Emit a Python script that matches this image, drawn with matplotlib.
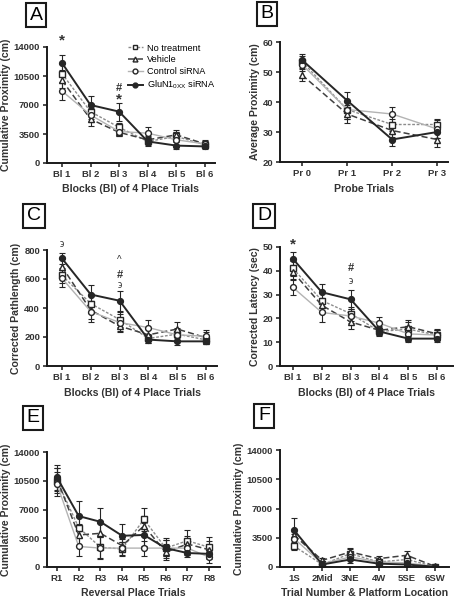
import numpy as np
import matplotlib
matplotlib.use('Agg')
import matplotlib.pyplot as plt
from matplotlib.lines import Line2D

plt.rcParams['font.family'] = ['Liberation Sans', 'DejaVu Sans']

groups = ['No treatment', 'Vehicle', 'Control siRNA', r'GluN1$_{\mathregular{0XX}}$ siRNA']

# Panel A - cumulative proximity, place trials
a_ticks = ['Bl 1', 'Bl 2', 'Bl 3', 'Bl 4', 'Bl 5', 'Bl 6']
a_nt = [10800, 6200, 4300, 2600, 3200, 2200]
a_veh = [10000, 5300, 3700, 2800, 3400, 2300]
a_ctrl = [8700, 5800, 3800, 3600, 2800, 2300]
a_glu = [12100, 7000, 6200, 2600, 2100, 2000]
a_nt_e = [1100, 900, 500, 500, 600, 400]
a_veh_e = [900, 800, 500, 400, 600, 400]
a_ctrl_e = [1100, 800, 600, 700, 900, 500]
a_glu_e = [900, 1100, 1100, 400, 400, 300]

# Panel B - average proximity, probe trials
b_ticks = ['Pr 0', 'Pr 1', 'Pr 2', 'Pr 3']
b_nt = [53.5, 37.5, 32.5, 32.5]
b_veh = [49, 36, 30.5, 27.5]
b_ctrl = [52.5, 37.5, 36, 31]
b_glu = [54, 40.5, 27.5, 30]
b_nt_e = [2, 3, 2, 2]
b_veh_e = [2, 3, 2, 2.5]
b_ctrl_e = [2, 3, 2.5, 3]
b_glu_e = [2, 3, 2, 2]

# Panel C - corrected pathlength
c_nt = [625, 430, 320, 190, 220, 180]
c_veh = [685, 385, 275, 215, 255, 195]
c_ctrl = [605, 375, 300, 265, 215, 205]
c_glu = [742, 493, 450, 182, 170, 170]
c_nt_e = [50, 60, 50, 30, 40, 30]
c_veh_e = [50, 60, 40, 40, 50, 40]
c_ctrl_e = [60, 70, 60, 50, 40, 40]
c_glu_e = [40, 65, 70, 20, 25, 20]

# Panel D - corrected latency
d_nt = [41, 27.5, 22, 14.5, 15.5, 13]
d_veh = [39.5, 25.5, 18.5, 15, 16.5, 13.5]
d_ctrl = [33, 22.5, 21, 18, 13.5, 13]
d_glu = [45, 31, 28, 14.5, 11.5, 11.5]
d_nt_e = [3, 3, 3, 2, 3, 2]
d_veh_e = [3, 3, 3, 2, 3, 2]
d_ctrl_e = [3, 4, 3, 2.5, 3, 2]
d_glu_e = [3, 3.5, 4, 1.5, 1.5, 1.5]

# Panel E - reversal place trials
e_ticks = ['R1', 'R2', 'R3', 'R4', 'R5', 'R6', 'R7', 'R8']
e_nt = [10500, 4800, 2400, 2200, 5800, 2300, 3200, 2400]
e_veh = [10700, 3900, 4100, 2600, 5000, 1800, 2800, 2100]
e_ctrl = [10100, 2500, 2300, 2300, 2300, 2300, 2300, 1200]
e_glu = [10900, 6200, 5500, 3800, 3900, 2300, 1700, 1600]
e_nt_e = [1500, 1300, 1300, 800, 1400, 1200, 1300, 1200]
e_veh_e = [1400, 1300, 1300, 800, 1200, 1000, 1000, 1100]
e_ctrl_e = [1500, 1200, 1300, 800, 900, 1000, 800, 700]
e_glu_e = [1500, 1800, 1700, 1400, 1400, 1000, 500, 500]

# Panel F - trial number & platform location
f_ticks = ['1S', '2Mid', '3NE', '4W', '5SE', '6SW']
f_nt = [2500, 300, 1600, 600, 900, 50]
f_veh = [3800, 800, 1800, 1000, 1400, 80]
f_ctrl = [3400, 400, 1200, 600, 500, 50]
f_glu = [4400, 300, 900, 400, 300, 30]
f_nt_e = [500, 200, 500, 300, 400, 30]
f_veh_e = [600, 300, 500, 300, 500, 30]
f_ctrl_e = [600, 200, 400, 300, 300, 30]
f_glu_e = [1500, 200, 400, 200, 200, 30]

styles = [
    dict(color='0.55', ls=(0, (2, 1.2)), marker='s', mfc='white', lw=1.0),
    dict(color='0.25', ls=(0, (4, 2)), marker='^', mfc='white', lw=1.1),
    dict(color='0.7', ls='-', marker='o', mfc='white', lw=1.0),
    dict(color='0.15', ls='-', marker='o', mfc='0.15', lw=1.4),
]

W, H = 462, 599
fig = plt.figure(figsize=(W / 100, H / 100), dpi=100)


def px_axes(x0, x1, ytop, ybot):
    return fig.add_axes([x0 / W, 1 - ybot / H, (x1 - x0) / W, (ybot - ytop) / H])


def draw(ax, ticks, series, errs, ylim, yticks, xlim, ylabel, xlabel):
    x = np.arange(len(ticks))
    for s, e, st in zip(series, errs, styles):
        ax.errorbar(x, s, yerr=e, color=st['color'], ls=st['ls'], lw=st['lw'],
                    marker=st['marker'], mfc=st['mfc'], mec='0.15', ms=4.2,
                    ecolor='0.15', elinewidth=0.8, capsize=2, capthick=0.8)
    ax.set_xlim(*xlim)
    ax.set_ylim(*ylim)
    ax.set_yticks(yticks)
    ax.set_xticks(x)
    ax.set_xticklabels(ticks)
    for sp in ['top', 'right']:
        ax.spines[sp].set_visible(False)
    for sp in ['left', 'bottom']:
        ax.spines[sp].set_linewidth(1.4)
        ax.spines[sp].set_color('0.1')
    ax.tick_params(length=3, width=1.1, labelsize=6.8, pad=2, colors='0.1')
    for lab in ax.get_xticklabels() + ax.get_yticklabels():
        lab.set_fontweight('bold')
        lab.set_color('0.2')
    ax.set_ylabel(ylabel, fontsize=7.6, fontweight='bold', color='0.2', labelpad=2)
    ax.set_xlabel(xlabel, fontsize=7.6, fontweight='bold', color='0.2', labelpad=4)


def panel_label(x, y, s):
    fig.text(x / W, 1 - y / H, s, fontsize=14, ha='center', va='center',
             bbox=dict(boxstyle='square,pad=0.2', fc='white', ec='0.1', lw=1.5))


prox_ticks = [0, 3500, 7000, 10500, 14000]

axA = px_axes(47, 215, 47, 163)
draw(axA, a_ticks, [a_nt, a_veh, a_ctrl, a_glu], [a_nt_e, a_veh_e, a_ctrl_e, a_glu_e],
     (0, 14000), prox_ticks, (-0.52, 5.35), 'Cumulative Proximity (cm)',
     'Blocks (Bl) of 4 Place Trials')
axA.text(0, 14300, '*', ha='center', fontsize=11, fontweight='bold', color='0.2')
axA.text(2, 8700, '#', ha='center', fontsize=8, fontweight='bold', color='0.2')
axA.text(2, 7200, '*', ha='center', fontsize=11, fontweight='bold', color='0.2')
handles = [Line2D([], [], color=st['color'], ls=st['ls'], lw=st['lw'], marker=st['marker'],
                  mfc=st['mfc'], mec='0.15', ms=3.5) for st in styles]
axA.legend(handles, groups, loc='upper left', bbox_to_anchor=(0.46, 1.06), frameon=False,
           fontsize=6.6, handlelength=1.6, handletextpad=0.5, labelspacing=0.3,
           borderaxespad=0)

axB = px_axes(280, 448, 42, 162)
draw(axB, b_ticks, [b_nt, b_veh, b_ctrl, b_glu], [b_nt_e, b_veh_e, b_ctrl_e, b_glu_e],
     (20, 60), [20, 30, 40, 50, 60], (-0.49, 3.24), 'Average Proximity (cm)', 'Probe Trials')

axC = px_axes(47, 217, 250, 366)
draw(axC, a_ticks, [c_nt, c_veh, c_ctrl, c_glu], [c_nt_e, c_veh_e, c_ctrl_e, c_glu_e],
     (0, 800), [0, 200, 400, 600, 800], (-0.52, 5.38), 'Corrected Pathlength (cm)',
     'Blocks (Bl) of 4 Place Trials')
axC.text(0, 820, '\u03f6', ha='center', fontsize=7, color='0.2')
axC.text(2, 710, '^', ha='center', fontsize=7, color='0.2')
axC.text(2, 610, '#', ha='center', fontsize=8, fontweight='bold', color='0.2')
axC.text(2, 535, '\u03f6', ha='center', fontsize=7, color='0.2')

axD = px_axes(280, 453, 247, 366)
draw(axD, a_ticks, [d_nt, d_veh, d_ctrl, d_glu], [d_nt_e, d_veh_e, d_ctrl_e, d_glu_e],
     (0, 50), [0, 10, 20, 30, 40, 50], (-0.45, 5.55), 'Corrected Latency (sec)',
     'Blocks (Bl) of 4 Place Trials')
axD.text(0, 49.5, '*', ha='center', fontsize=11, fontweight='bold', color='0.2')
axD.text(2, 40, '#', ha='center', fontsize=8, fontweight='bold', color='0.2')
axD.text(2, 34.5, '\u03f6', ha='center', fontsize=7, color='0.2')

axE = px_axes(47, 220, 452, 567)
draw(axE, e_ticks, [e_nt, e_veh, e_ctrl, e_glu], [e_nt_e, e_veh_e, e_ctrl_e, e_glu_e],
     (0, 14000), prox_ticks, (-0.46, 7.5), 'Cumulative Proximity (cm)',
     'Reversal Place Trials')

axF = px_axes(280, 449, 450, 567)
draw(axF, f_ticks, [f_nt, f_veh, f_ctrl, f_glu], [f_nt_e, f_veh_e, f_ctrl_e, f_glu_e],
     (0, 14000), prox_ticks, (-0.5, 5.5), 'Cumulative Proximity (cm)',
     'Trial Number & Platform Location')

panel_label(36, 15, 'A')
panel_label(267, 14, 'B')
panel_label(34, 216, 'C')
panel_label(264, 216, 'D')
panel_label(33, 418, 'E')
panel_label(264, 416, 'F')

fig.savefig('out.png', dpi=100)
